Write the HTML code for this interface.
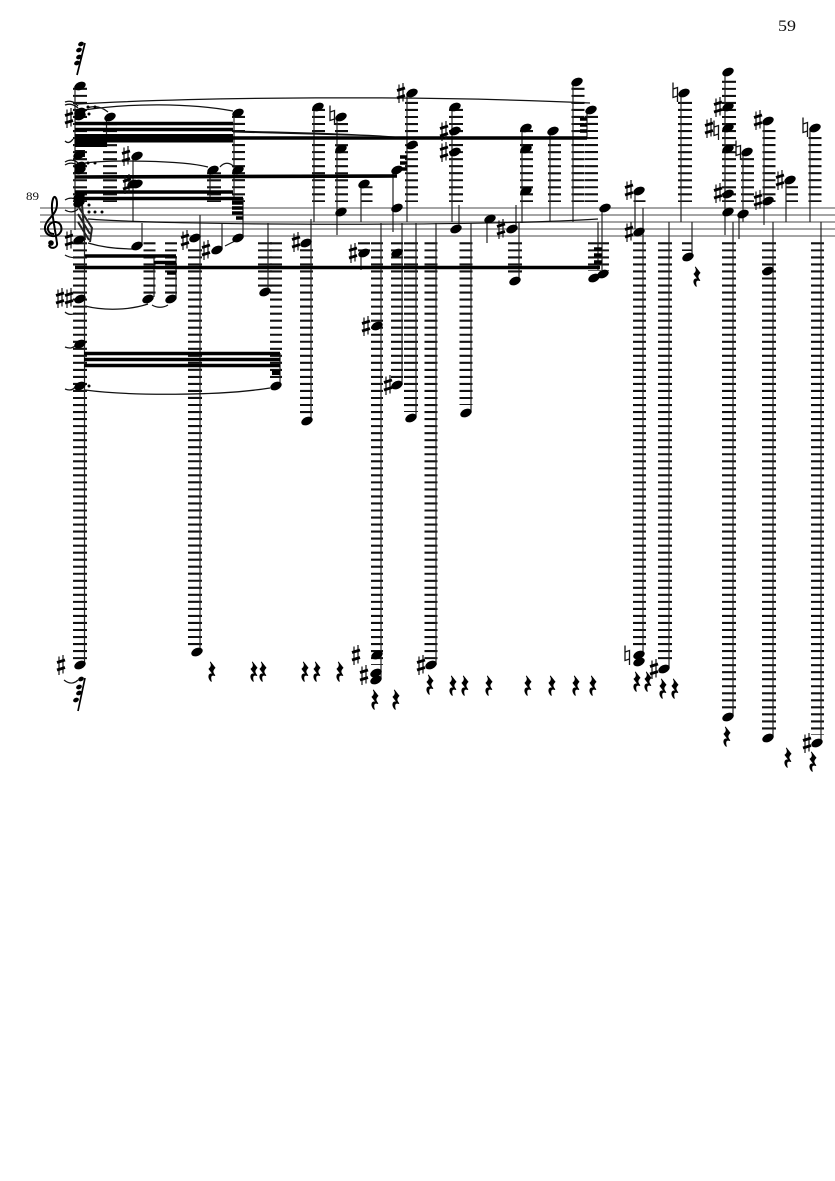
<!DOCTYPE html>
<html lang="en">
<head>
<meta charset="utf-8">
<title>Score page 59</title>
<style>
html,body{margin:0;padding:0;background:#fff}
svg{display:block;position:absolute;left:0;top:0}
text{font-family:"Liberation Serif",serif;fill:#111}
.m{fill:none;stroke:none}
.l{fill:none;stroke:#111;stroke-dasharray:2.1 4.93}
.s{fill:none;stroke:#222;stroke-width:1.2}
.b{fill:none;stroke:#000;stroke-width:3.6}
.c{fill:none;stroke:#111;stroke-width:1.25}
</style>
</head>
<body>
<svg width="835" height="1181" viewBox="0 0 835 1181" xmlns="http://www.w3.org/2000/svg">
<defs>
<marker id="n" markerUnits="userSpaceOnUse" markerWidth="20" markerHeight="20" refX="10" refY="10" overflow="visible"><ellipse cx="10" cy="10" rx="6" ry="3.9" transform="rotate(-24 10 10)" fill="#000"/></marker>
<marker id="sh" markerUnits="userSpaceOnUse" markerWidth="14" markerHeight="26" refX="7" refY="13" overflow="visible"><path d="M5 4.5V23M9 3V21.500" stroke="#111" stroke-width="1.2" fill="none"/><path d="M3 10.500L11 8M3 18L11 15.500" stroke="#000" stroke-width="2.8" fill="none"/></marker>
<marker id="na" markerUnits="userSpaceOnUse" markerWidth="14" markerHeight="26" refX="7" refY="13" overflow="visible"><path d="M5 3.500V18.500L9.500 17V8.500L5 10M9.500 8.500V23" stroke="#111" stroke-width="1.3" fill="none"/></marker>
<marker id="r" markerUnits="userSpaceOnUse" markerWidth="16" markerHeight="26" refX="7" refY="12" overflow="visible"><path transform="translate(7 12) scale(1.2) translate(-7 -12)" d="M5.500 3.500L9.500 8.500C7.500 10.500 7 12 9.500 15C7 14 5 15 6.500 20C3.500 17 3.500 13 7.500 13.500L4.500 9.500C6.500 8 7 6 5.500 3.500Z" fill="#000" stroke="#000" stroke-width=".7"/></marker>
<marker id="d" markerUnits="userSpaceOnUse" markerWidth="6" markerHeight="6" refX="3" refY="3" overflow="visible"><circle cx="3" cy="3" r="1.5" fill="#000"/></marker>
<marker id="g" markerUnits="userSpaceOnUse" markerWidth="8" markerHeight="8" refX="4" refY="4" overflow="visible"><ellipse cx="4" cy="4" rx="3" ry="2.2" fill="#000" transform="rotate(-24 4 4)"/></marker>
</defs>

<text x="778" y="31" font-size="15.500" textLength="18" lengthAdjust="spacingAndGlyphs">59</text>
<text x="26" y="200" font-size="11.500" textLength="13" lengthAdjust="spacingAndGlyphs">89</text>

<!-- staff -->
<path d="M40 208H835M40 215H835M40 222H835M40 229H835M40 236H835" stroke="#858585" stroke-width="1.6" fill="none"/>

<!-- treble clef -->
<path d="M54 234C48 234 46 228 50 224C53 221 59 221 61 226C63 232 58 237 52 236C45 235 43 228 47 222C50 217 57 213 57 204C57 197 54 195 53 199C51 205 52 212 54 224L57 243C58 248 50 250 49 245" fill="none" stroke="#000" stroke-width="2"/>
<circle cx="51" cy="243" r="2.800" fill="#000"/>

<!-- ledger lines above staff -->
<path class="l" stroke-width="14" d="M80 87.800V202M110 123V202M214 172.200V202M456 108.900V202"/>
<path class="l" stroke-width="13" d="M238.500 115.900V202M318.500 108.900V202M341.500 123V202M411.500 101.900V202M526.500 130V202M554.500 144.100V202M578 87.800V202M591.500 115.900V202M769 130V202M815 137V202M747.500 158.100V202"/>
<path class="l" stroke-width="14" d="M685 101.900V202M729 80.800V202"/>
<path class="l" stroke-width="12" d="M366.500 186.200V202M792 186.200V202M639.500 200.300V202"/>

<!-- ledger lines below staff -->
<path class="l" stroke-width="14" d="M80 242.300V660M195 249.300V648M265 242.300V288M411 242.300V412M515 242.300V274M665 242.300V660M729 242.300V712M769 242.300V730"/>
<path class="l" stroke-width="13" d="M306.500 249.300V415M431 242.300V660M466 242.300V405M639.500 242.300V650M817.500 242.300V735"/>
<path class="l" stroke-width="12" d="M149.500 242.300V295M171 242.300V295M276 242.300V380M364 242.300V252M377 242.300V665M397 242.300V380"/>
<path class="l" stroke-width="21" d="M598.500 242.300V271"/>
<path class="l" stroke-width="10" d="M687 242.300V251"/>

<!-- stems -->
<path class="s" stroke-width="1.500" d="M75 86V230M84.500 240V665M106.500 117V147M133 156V222M142 223V246M154 256V297M176 256V297M200 215V652M210 170V198M234 113V198M243 198V238M222 223V248M268 223V292M280 353V384M314 107V222M311 219V421M337 117V235M361 184V222M361 253V270M393 170V232M402 223V385M407 93V222M416 223V416M436 223V665M452 107V222M459 205V229M471 223V411M487 219V243M516 205V229M519 223V281M522 128V223M550 131V222M573 82V222M587 110V137M602 208V270M598 222V270M635 191V229M643 208V655M669 222V667M681 93V222M692 222V257M739 214V239M743 152V222M764 121V225M786 180V222M810 128V222M821 222V741"/>
<path class="s" stroke-width="2.200" d="M381 223V678M725 72V235M733 222V716M773 222V736"/>

<!-- beams -->
<path class="b" d="M75 123.500H233M75 129.500H233"/>
<path d="M75 134H233V142.500H107V147H75Z" fill="#000"/>
<path class="b" stroke-width="3.200" d="M233 138L587 138M75 177L397 176M75 192H233M75 198.500H243M85 256H176M75 267.500H600M84 353.500H280M84 359.500H280M84 365.500H280"/>
<path fill="#111" d="M233 130.500C300 132 360 133.500 402 137L233 132.500Z"/>
<path class="b" stroke-width="3" d="M154 262.500H176M167 273H176M232 203H243M232 208H243M232 213H243M236 218H243M400 157H407M400 163H407M398 169H407M580 119H587M580 125H587M580 131H587M594 249H602M594 255H602M594 262H602"/>
<path d="M272 370H280V375H272Z" fill="#000"/>
<path d="M75 157L85 157L85 150L75 150Z" fill="#111"/>

<!-- flags -->
<path d="M78 206L92 228L90 242M78 214L90 234M78 222L89 240M82 204L85 240" fill="none" stroke="#222" stroke-width="2"/>

<!-- slurs and ties -->
<path class="c" d="M78 104C200 97 420 95 590 103M84 110C130 103 190 103 233 111M87 108C95 105 102 107 108 112M85 163C110 160 180 160 208 167M220 167C224 162 230 162 234 167M88 219C180 226 500 226 598 219M88 243C105 248 120 249 133 249M225 246L235 241M85 306C105 311 130 310 148 304M152 305C157 308 163 308 168 305M85 390C130 396 220 396 270 388M65 102C70 100 75 102 78 106M65 105C70 103 75 105 78 108M65 141C68 144 71 142 73 139M65 162C70 159 75 160 78 163M65 165C70 162 75 163 78 166M65 200C70 197 75 198 78 201M65 210C70 213 75 212 78 209M65 255C70 258 75 258 79 257M65 312C68 315 73 315 76 313M65 347C70 349 73 348 76 345M65 389C70 391 73 390 75 387M64 680C69 684 74 684 78 680"/>

<!-- grace figures -->
<path d="M85 43L77 75M85 678L78 711" stroke="#000" stroke-width="1.700" fill="none"/>
<polyline class="m" style="marker:url(#g)" points="81,44 79,50 79,57 77,63 81,679 79,687 79,693 76,700"/>

<!-- dots -->
<polyline class="m" style="marker:url(#d)" points="88,107 95,107 89,114 88,163 95,163 89,205 89,212 95,212 102,212 89,386"/>

<!-- noteheads -->
<polyline class="m" style="marker:url(#n)" points="80,86 80,112 80,116 110,117 238,113 79,155 137,156 80,166 80,170 213,170 238,170 137,184 133,184 79,197 79,203 79,240 137,246 195,238 217,250 238,238 148,299 171,299 80,299 265,292 80,344 80,386 276,386 80,665 197,652 318,107 306,243 307,421 341,117 341,149 341,212 364,184 364,253 377,326 377,655 376,673 376,680 397,170 397,208 397,253 397,385 412,93 412,145 411,418 431,665 455,107 455,131 455,152 456,229 466,413 490,219 512,229 515,281 526,128 526,149 526,191 553,131 577,82 591,110 605,208 603,274 594,278 639,191 639,232 639,655 639,662 664,669 684,93 688,257 728,72 728,107 728,128 728,149 728,194 728,212 747,152 743,214 728,717 768,121 768,201 768,271 768,738 790,180 815,128 817,743"/>

<!-- sharps -->
<polyline class="m" style="marker:url(#sh)" points="69,118 126,156 127,184 185,240 206,250 69,240 60,298 69,298 296,242 61,665 353,253 366,326 356,655 364,675 388,385 401,93 421,665 444,131 444,152 501,229 629,190 629,232 654,669 718,107 709,128 718,193 758,120 758,200 780,180 807,743"/>

<!-- naturals -->
<polyline class="m" style="marker:url(#na)" points="332,115 627,655 675,92 716,130 738,150 805,127"/>

<!-- rests -->
<polyline class="m" style="marker:url(#r)" points="212,672 254,672 263,672 305,672 317,672 340,672 375,700 396,700 430,685 453,686 465,686 489,686 528,686 552,686 576,686 593,686 637,682 648,682 663,689 675,689 697,277 727,737 788,758 813,762"/>
</svg>
</body>
</html>
